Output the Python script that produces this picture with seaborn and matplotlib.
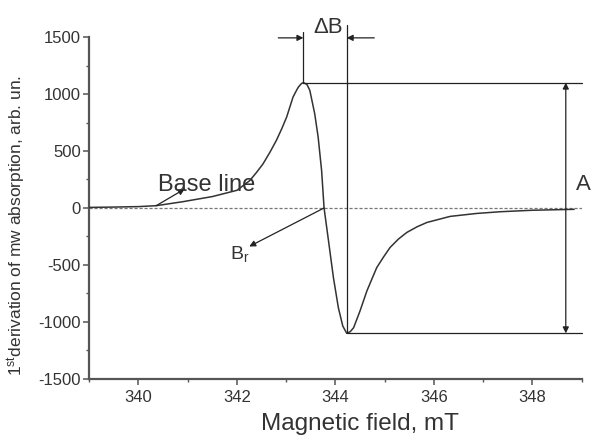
import matplotlib
matplotlib.use("Agg")
import matplotlib.pyplot as plt
import seaborn as sns
import pandas as pd
from matplotlib.ticker import MultipleLocator

# ---- data ----
field_mT = [339.0, 339.5, 340.0, 340.36, 340.9, 341.5, 342.0, 342.26, 342.40, 342.53,
            342.67, 342.80, 342.91, 343.01, 343.14, 343.22, 343.25, 343.31, 343.35,
            343.42, 343.48, 343.58, 343.65, 343.72, 343.77, 343.86, 343.96, 344.06,
            344.15, 344.23, 344.30, 344.37, 344.50, 344.57, 344.64, 344.74, 344.84,
            344.98, 345.11, 345.28, 345.45, 345.66, 345.86, 346.33, 346.87, 347.35,
            348.0, 348.85]
signal = [5, 8, 12, 20, 55, 100, 155, 240, 313, 387,
          489, 592, 695, 798, 974, 1040, 1062, 1092, 1100,
          1085, 1033, 827, 621, 328, 0, -288, -611, -875,
          -1036, -1100, -1086, -1051, -904, -816, -728, -625, -523,
          -429, -347, -273, -215, -165, -127, -74, -48, -33,
          -20, -12]

peak_field, peak_value = 343.35, 1100
min_field, min_value = 344.23, -1100
zero_cross = 343.77

x_ticks = [340, 342, 344, 346, 348]
y_ticks = [-1500, -1000, -500, 0, 500, 1000, 1500]

df = pd.DataFrame({"field": field_mT, "signal": signal})

sns.set_theme(style="ticks")
plt.rcParams["font.family"] = ["Liberation Sans", "DejaVu Sans"]
plt.rcParams["mathtext.default"] = "regular"
plt.rcParams["axes.unicode_minus"] = False

fig, ax = plt.subplots(figsize=(5.91, 4.36), dpi=100)
fig.subplots_adjust(left=0.151, right=0.984, bottom=0.131, top=0.915)

# dashed zero line
ax.axhline(0, color="#777777", lw=0.9, ls=(0, (2.5, 1.5)), zorder=1)

sns.lineplot(data=df, x="field", y="signal", ax=ax, color="#333333", lw=1.1,
             sort=False, estimator=None, zorder=3)

ax.set_xlim(339, 349)
ax.set_ylim(-1500, 1500)
ax.set_xticks(x_ticks)
ax.set_yticks(y_ticks)
ax.xaxis.set_minor_locator(MultipleLocator(1))
ax.yaxis.set_minor_locator(MultipleLocator(250))

sns.despine(ax=ax)
for s in ["left", "bottom"]:
    ax.spines[s].set_color("#555555")
    ax.spines[s].set_linewidth(1.6)

ax.tick_params(axis="both", which="major", direction="out", length=4, width=1.1,
               color="#555555", labelsize=12, labelcolor="#333333", pad=2)
ax.tick_params(axis="both", which="minor", direction="out", length=2.5, width=1.0,
               color="#555555")
ax.tick_params(axis="x", which="major", pad=4)

ax.set_xlabel("Magnetic field, mT", fontsize=17.5, color="#333333")
ax.set_ylabel("1$^{st}$derivation of mw absorption, arb. un.", fontsize=12.5,
              color="#333333")
ax.xaxis.set_label_coords(0.55, -0.10)
ax.yaxis.set_label_coords(-0.125, 0.45)

lk = dict(color="#222222", lw=0.9, clip_on=False, zorder=4)

# vertical lines marking the peak-to-peak width
ax.plot([peak_field, peak_field], [peak_value, 1546], **lk)
ax.plot([min_field, min_field], [min_value, 1605], **lk)
# horizontal amplitude lines
ax.plot([peak_field, 349.0], [peak_value, peak_value], **lk)
ax.plot([min_field, 349.0], [min_value, min_value], **lk)

arr = dict(arrowstyle="-|>", color="#222222", lw=0.9, mutation_scale=9,
           shrinkA=0, shrinkB=0)
# Delta B arrows
ax.annotate("", xy=(peak_field, 1493), xytext=(342.84, 1493),
            arrowprops=arr, annotation_clip=False)
ax.annotate("", xy=(min_field, 1493), xytext=(344.79, 1493),
            arrowprops=arr, annotation_clip=False)
ax.text(343.55, 1532, "ΔB", fontsize=16, color="#333333", ha="left",
        va="baseline", clip_on=False)

# amplitude A arrow
ax.annotate("", xy=(348.68, peak_value), xytext=(348.68, min_value),
            arrowprops=dict(arrowstyle="<|-|>", color="#222222", lw=0.9,
                            mutation_scale=9, shrinkA=0, shrinkB=0),
            annotation_clip=False)
ax.text(348.88, 158, "A", fontsize=16, color="#333333", ha="left",
        va="baseline", clip_on=False)

# Base line
ax.annotate("", xy=(340.94, 167), xytext=(340.36, 20), arrowprops=arr)
ax.text(340.39, 152, "Base line", fontsize=17, color="#333333", ha="left",
        va="baseline")

# B_r
ax.annotate("", xy=(342.25, -338), xytext=(zero_cross, 0), arrowprops=arr)
ax.text(341.85, -449, "B$_r$", fontsize=14, color="#333333", ha="left",
        va="baseline")

fig.savefig("out.png", dpi=100)
